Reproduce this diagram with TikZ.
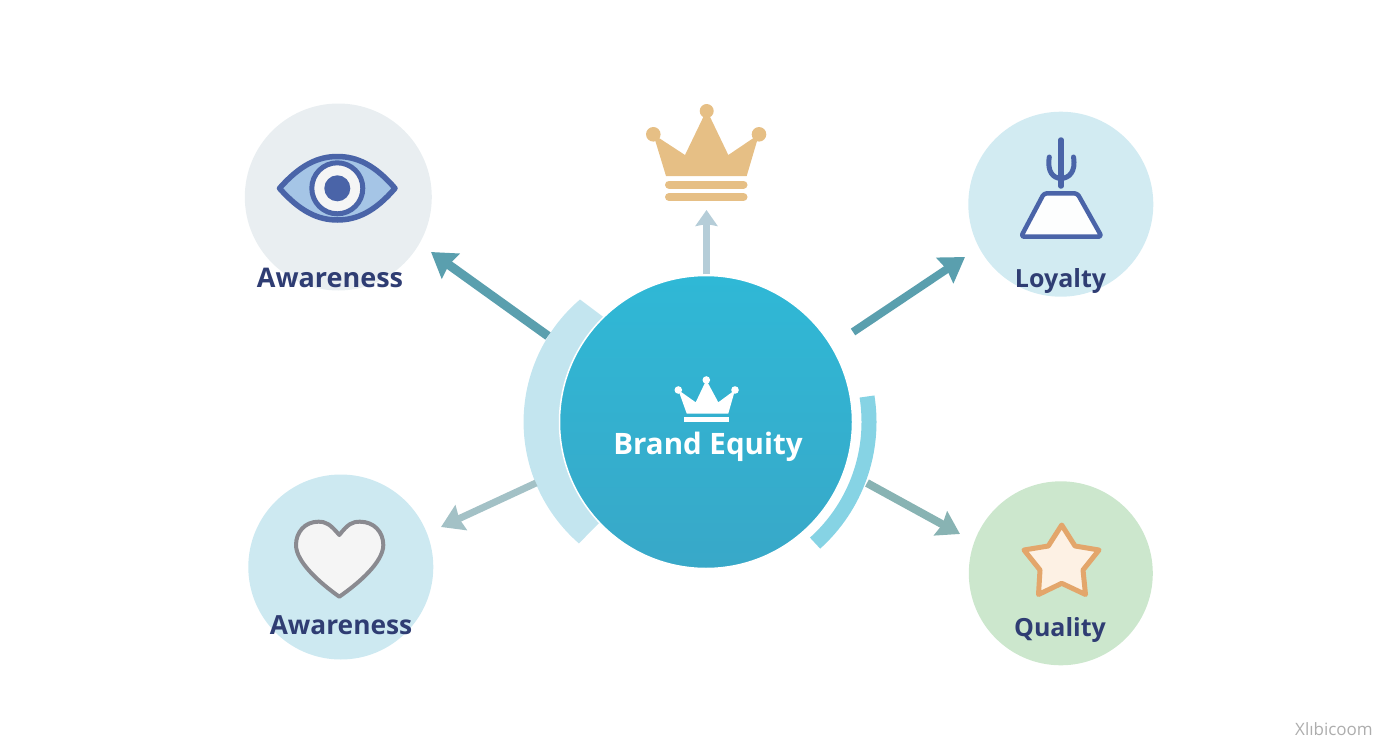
\documentclass[tikz,border=0pt]{standalone}
\usepackage{fontspec}
\setmainfont{Open Sans}
\usetikzlibrary{arrows.meta}
\definecolor{ringgray}{HTML}{E9EEF1}
\definecolor{ringblue}{HTML}{D2EBF2}
\definecolor{ringsky}{HTML}{CDE9F1}
\definecolor{ringgreen}{HTML}{CCE7CD}
\definecolor{inkblue}{HTML}{2F3D73}
\definecolor{iconblue}{HTML}{4A64A8}
\definecolor{eyeblue}{HTML}{A5C5E6}
\definecolor{crowngold}{HTML}{E6BF85}
\definecolor{stargold}{HTML}{E3A66B}
\definecolor{starfill}{HTML}{FDF1E4}
\definecolor{heartgray}{HTML}{8A8A90}
\definecolor{tealdark}{HTML}{5A9FAE}
\definecolor{tealpale}{HTML}{B5CDD8}
\definecolor{tealgray}{HTML}{88B3B3}
\definecolor{tealsoft}{HTML}{A3C1C6}
\definecolor{bandpale}{HTML}{C3E5EF}
\definecolor{bandsky}{HTML}{86D3E4}
\definecolor{brandtop}{HTML}{2FB8D6}
\definecolor{brandlow}{HTML}{38A8C8}
\tikzset{
	ringnode/.style={circle,minimum size=#1,inner sep=0pt},
	labelnode/.style={anchor=base,inner sep=0pt,text=inkblue,font=\fontsize{#1}{30}\selectfont\bfseries},
	linkarrow/.style={line width=#1,-{Stealth[inset=2pt,length=24pt,width=30pt]}},
	sidearrow/.style={line width=#1,-{Stealth[inset=2pt,length=22pt,width=27pt]}},
	toparrow/.style={line width=#1,-{Stealth[inset=2pt,length=16pt,width=22pt]}}
}
\begin{document}
\begin{tikzpicture}[x=1pt,y=-1pt,line join=round]
	\useasboundingbox (0,0) rectangle (1392,752);
	% side bands
	\fill[bandpale] (580,299.5) arc[start angle=229.5,end angle=131,radius=161] -- (599,523) -- (640,420) -- (603,316.7) -- cycle;
	\draw[line width=15pt,bandsky] (867,396.5) arc[start angle=-9,end angle=48,radius=163];
	% centre
	\node[ringnode=293pt,top color=brandtop,bottom color=brandlow,draw=white,line width=1.5pt] (brand) at (706,422) {};
	% outer circles
	\node[ringnode=187pt,fill=ringgray] (eyeRing) at (338.3,197) {};
	\node[ringnode=185pt,fill=ringblue] (loyalRing) at (1060.8,204.2) {};
	\node[ringnode=185pt,fill=ringsky] (heartRing) at (340.8,567) {};
	\node[ringnode=184pt,fill=ringgreen] (starRing) at (1060.8,573.3) {};
	% arrows
	\coordinate (tailA) at (548,336);
	\coordinate (tipA) at (431,252);
	\coordinate (tailB) at (706.5,274);
	\coordinate (tipB) at (706.5,210);
	\coordinate (tailC) at (853,332);
	\coordinate (tipC) at (965,257);
	\coordinate (tailD) at (536,483);
	\coordinate (tipD) at (441,527);
	\coordinate (tailE) at (867,483);
	\coordinate (tipE) at (960,534);
	\draw[linkarrow=9pt,tealdark] (tailA) -- (tipA);
	\draw[toparrow=7pt,tealpale] (tailB) -- (tipB);
	\draw[linkarrow=8pt,tealdark] (tailC) -- (tipC);
	\draw[sidearrow=7pt,tealsoft] (tailD) -- (tipD);
	\draw[sidearrow=8pt,tealgray] (tailE) -- (tipE);
	% eye
	\draw[iconblue,fill=eyeblue,line width=5.5pt] (279.5,188.3) .. controls (300,165) and (318,156.5) .. (337.3,156.5) .. controls (357,156.5) and (375,165) .. (395,188.3) .. controls (375,211.5) and (357,220) .. (337.3,220) .. controls (318,220) and (300,211.5) .. (279.5,188.3) -- cycle;
	\draw[iconblue,fill=white!96!black,line width=5pt] (337.3,188.3) circle[radius=25.5];
	\fill[iconblue] (337.3,188.3) circle[radius=13];
	% top crown
	\fill[crowngold] (666,176) -- (653.3,134.3) -- (685,155) -- (706.7,110) -- (728.3,155) -- (759,134.3) -- (746.7,176) -- cycle;
	\foreach \x in {653.3,759}
		\fill[crowngold] (\x,134.3) circle[radius=7.3];
	\fill[crowngold] (706.7,111) circle[radius=7];
	\foreach \y in {184.5,197}
		\draw[crowngold,line width=8pt,line cap=round] (669,\y) -- (743.5,\y);
	% cactus and trapezoid
	\draw[iconblue,fill=white!96!ringblue,line width=4.5pt,rounded corners=3pt] (1044,193.3) -- (1077.3,193.3) -- (1101.7,236.7) -- (1021,236.7) -- cycle;
	\draw[iconblue,line width=5.5pt,line cap=round] (1061,140) -- (1061,186);
	\draw[iconblue,line width=5pt,line cap=round] (1049.3,157) .. controls (1047,172) and (1053,178) .. (1061,178.5) .. controls (1069,178) and (1076,172) .. (1073.5,157);
	% heart
	\draw[heartgray,fill=white!96!black,line width=4pt] (339.3,535) .. controls (330,524) and (326,521.7) .. (318.3,521.7) .. controls (305,521.7) and (296,532) .. (296,545) .. controls (296,562) and (320,583) .. (339.3,596.7) .. controls (359,583) and (383.3,562) .. (383.3,545) .. controls (383.3,532) and (374,521.7) .. (360,521.7) .. controls (352,521.7) and (348,524) .. (339.3,535) -- cycle;
	% star
	\draw[stargold,fill=starfill,line width=5pt] (1061.7,525) -- (1075,546) -- (1099,550) -- (1083,570) -- (1085.5,594.5) -- (1061.7,583.3) -- (1038.5,594.5) -- (1040,570) -- (1024,550) -- (1048.3,546) -- cycle;
	% small crown
	\fill[white] (686.7,413.5) -- (678.3,390) -- (695.7,402.3) -- (706.3,380) -- (718.3,402.3) -- (735,390) -- (728.3,413.5) -- cycle;
	\foreach \x/\y in {678.3/390,706.3/380,735/390}
		\fill[white] (\x,\y) circle[radius=3.8];
	\fill[white] (684.3,417.3) rectangle (729,422.3);
	% labels
	\node[labelnode=27] (eyeText) at (330,287) {Awareness};
	\node[labelnode=25] (loyalText) at (1060.5,287.3) {Loyalty};
	\node[labelnode=26.3] (heartText) at (341,634) {Awareness};
	\node[labelnode=25] (starText) at (1060,636) {Quality};
	\node[labelnode=29.5,text=white] (brandText) at (708,454) {Brand Equity};
	\node[anchor=base,inner sep=0pt,text=black!32,font=\fontsize{17}{18}\selectfont] (markText) at (1334,735) {Xlıbicoom};
\end{tikzpicture}
\end{document}
